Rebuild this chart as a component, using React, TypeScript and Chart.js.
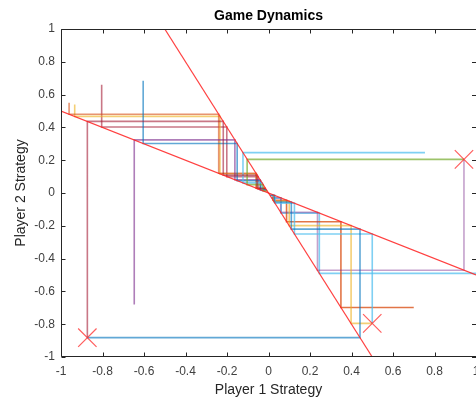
import React, { useEffect, useRef } from "react";
import { Chart, registerables } from "chart.js";

Chart.register(...registerables);

// ---- data ----
const TICK_VALUES = [-1, -0.8, -0.6, -0.4, -0.2, 0, 0.2, 0.4, 0.6, 0.8, 1];
const TICK_LABELS = ["-1", "-0.8", "-0.6", "-0.4", "-0.2", "0", "0.2", "0.4", "0.6", "0.8", "1"];

// best-response lines
const BR1_X = [-0.5, 0.5];
const BR1_Y = [1, -1];
const BR2_X = [-1, 1];
const BR2_Y = [0.5, -0.5];

// marked starting points
const START_X = [-0.873, 0.5, 0.942];
const START_Y = [-0.882, -0.795, 0.205];

// trajectories (vertices)
const P1_X = [-0.873, 0.441, 0.441, 0.11, 0.11, 0.028, 0.028, 0.007];
const P1_Y = [-0.882, -0.882, -0.22, -0.22, -0.055, -0.055, -0.014, -0.014];
const P2_X = [-0.873, -0.873, -0.218, -0.218, -0.055, -0.055, -0.014];
const P2_Y = [-0.882, 0.437, 0.437, 0.109, 0.109, 0.027, 0.027];
const P3_X = [0.5, 0.5, 0.125, 0.125, 0.031, 0.031, 0.008];
const P3_Y = [-0.795, -0.25, -0.25, -0.062, -0.062, -0.016, -0.016];
const P4_X = [0.5, 0.398, 0.398, 0.1, 0.1, 0.025, 0.025];
const P4_Y = [-0.795, -0.795, -0.199, -0.199, -0.05, -0.05, -0.012];
const P5_X = [0.942, -0.103, -0.103, -0.026, -0.026, -0.006];
const P5_Y = [0.205, 0.205, 0.051, 0.051, 0.013, 0.013];
const P6_X = [0.942, 0.942, 0.236, 0.236, 0.059, 0.059, 0.015];
const P6_Y = [0.205, -0.471, -0.471, -0.118, -0.118, -0.029, -0.029];
const P7_X = [0.754, -0.123, -0.123, -0.031, -0.031, -0.008];
const P7_Y = [0.246, 0.246, 0.062, 0.062, 0.015, 0.015];
const P8_X = [0.7, 0.349, 0.349, 0.087, 0.087, 0.022, 0.022];
const P8_Y = [-0.698, -0.698, -0.175, -0.175, -0.044, -0.044, -0.011];
const P9_X = [-0.604, -0.604, -0.151, -0.151, -0.038, -0.038, -0.009];
const P9_Y = [0.685, 0.302, 0.302, 0.075, 0.075, 0.019, 0.019];
const P10_X = [-0.647, -0.647, -0.162, -0.162, -0.04, -0.04, -0.01];
const P10_Y = [-0.68, 0.324, 0.324, 0.081, 0.081, 0.02, 0.02];
const P11_X = [-0.961, -0.961, -0.24, -0.24, -0.06, -0.06, -0.015];
const P11_Y = [0.55, 0.48, 0.48, 0.12, 0.12, 0.03, 0.03];
const P12_X = [-0.934, -0.934, -0.234, -0.234, -0.058, -0.058, -0.015];
const P12_Y = [0.54, 0.467, 0.467, 0.117, 0.117, 0.029, 0.029];
const P13_X = [-0.804, -0.804, -0.201, -0.201, -0.05, -0.05, -0.013];
const P13_Y = [0.66, 0.402, 0.402, 0.1, 0.1, 0.025, 0.025];
const P14_X = [1.05, 0.245, 0.245, 0.061, 0.061, 0.015];
const P14_Y = [-0.49, -0.49, -0.1225, -0.1225, -0.031, -0.031];

const C_BLUE = "rgba(0,114,189,0.62)";
const C_ORANGE = "rgba(217,83,25,0.62)";
const C_YELLOW = "rgba(237,177,32,0.62)";
const C_PURPLE = "rgba(126,47,142,0.62)";
const C_GREEN = "rgba(119,172,48,0.72)";
const C_LBLUE = "rgba(77,190,238,0.72)";
const C_DRED = "rgba(162,20,47,0.58)";

const PATHS: [number[], number[], string][] = [
  [P1_X, P1_Y, C_BLUE],
  [P2_X, P2_Y, C_DRED],
  [P3_X, P3_Y, C_LBLUE],
  [P4_X, P4_Y, C_YELLOW],
  [P5_X, P5_Y, C_GREEN],
  [P6_X, P6_Y, "rgba(126,47,142,0.45)"],
  [P7_X, P7_Y, C_LBLUE],
  [P8_X, P8_Y, "rgba(217,83,25,0.8)"],
  [P9_X, P9_Y, C_BLUE],
  [P10_X, P10_Y, C_PURPLE],
  [P11_X, P11_Y, C_ORANGE],
  [P12_X, P12_Y, C_YELLOW],
  [P13_X, P13_Y, C_DRED],
  [P14_X, P14_Y, C_LBLUE],
];

const toPts = (xs: number[], ys: number[]) => xs.map((x, i) => ({ x, y: ys[i] }));

const FONT = '"Liberation Sans", Arial, Helvetica, sans-serif';

const framePlugin = {
  id: "matlabFrame",
  afterDraw(chart: any) {
    const { ctx, chartArea: a, scales } = chart;
    ctx.save();
    ctx.strokeStyle = "#262626";
    ctx.lineWidth = 1;
    const l = Math.round(a.left) + 0.5;
    const r = Math.round(a.right) - 0.5;
    const t = Math.round(a.top) + 0.5;
    const b = Math.round(a.bottom) - 0.5;
    ctx.beginPath();
    ctx.moveTo(l, t);
    ctx.lineTo(r + 1, t);
    ctx.moveTo(l, t);
    ctx.lineTo(l, b);
    ctx.lineTo(r + 1, b);
    ctx.stroke();
    const tl = 4;
    ctx.beginPath();
    TICK_VALUES.forEach((v) => {
      const px = Math.round(scales.x.getPixelForValue(v)) + 0.5;
      ctx.moveTo(px, b);
      ctx.lineTo(px, b - tl);
      ctx.moveTo(px, t);
      ctx.lineTo(px, t + tl);
      const py = Math.round(scales.y.getPixelForValue(v)) + 0.5;
      ctx.moveTo(l, py);
      ctx.lineTo(l + tl, py);
      ctx.moveTo(a.right, py);
      ctx.lineTo(a.right - tl, py);
    });
    ctx.stroke();
    // tick labels
    ctx.fillStyle = "#404040";
    ctx.font = `12px ${FONT}`;
    ctx.textBaseline = "middle";
    ctx.textAlign = "center";
    TICK_VALUES.forEach((v, i) => {
      ctx.fillText(TICK_LABELS[i], scales.x.getPixelForValue(v), a.bottom + 15);
    });
    ctx.textAlign = "right";
    TICK_VALUES.forEach((v, i) => {
      ctx.fillText(TICK_LABELS[i], a.left - 6, scales.y.getPixelForValue(v));
    });
    // title
    ctx.fillStyle = "#000";
    ctx.font = `bold 14px ${FONT}`;
    ctx.textAlign = "center";
    ctx.fillText("Game Dynamics", (a.left + a.right) / 2, 16);
    ctx.restore();
  },
};

export default function App() {
  const ref = useRef<HTMLCanvasElement | null>(null);
  useEffect(() => {
    if (!ref.current) return;
    const datasets: any[] = [
      {
        data: toPts(START_X, START_Y),
        showLine: false,
        pointStyle: "crossRot",
        pointRadius: 13,
        pointBorderColor: "rgba(255,40,40,0.75)",
        pointBorderWidth: 1.2,
        clip: false,
      },
      {
        data: toPts(BR1_X, BR1_Y),
        showLine: true,
        borderColor: "rgba(255,30,30,0.85)",
        borderWidth: 1.2,
        pointRadius: 0,
        clip: 0,
      },
      {
        data: toPts(BR2_X, BR2_Y),
        showLine: true,
        borderColor: "rgba(255,30,30,0.85)",
        borderWidth: 1.2,
        pointRadius: 0,
        clip: 0,
      },
      ...PATHS.map(([xs, ys, c]) => ({
        data: toPts(xs, ys),
        showLine: true,
        borderColor: c,
        borderWidth: 1.6,
        pointRadius: 0,
        clip: 0,
      })),
    ];
    const chart = new Chart(ref.current, {
      type: "scatter",
      data: { datasets },
      options: {
        animation: false,
        responsive: false,
        events: [],
        layout: { autoPadding: false, padding: { top: 29, right: 0, left: 0, bottom: 0 } },
        plugins: { legend: { display: false }, tooltip: { enabled: false }, title: { display: false } },
        scales: {
          x: {
            type: "linear",
            min: -1,
            max: 1,
            afterFit: (s: any) => {
              s.height = 43;
            },
            grid: { display: false, drawTicks: false },
            border: { display: false },
            ticks: { display: false },
            title: {
              display: true,
              text: "Player 1 Strategy",
              color: "#262626",
              font: { size: 14, family: FONT },
              padding: { top: 0, bottom: 1 },
            },
          },
          y: {
            type: "linear",
            min: -1,
            max: 1,
            afterFit: (s: any) => {
              s.width = 61;
            },
            grid: { display: false, drawTicks: false },
            border: { display: false },
            ticks: { display: false },
            title: {
              display: true,
              text: "Player 2 Strategy",
              color: "#262626",
              font: { size: 14, family: FONT },
              padding: { top: 12.6, bottom: 0 },
            },
          },
        },
      } as any,
      plugins: [framePlugin],
    });
    return () => chart.destroy();
  }, []);
  return (
    <div style={{ position: "fixed", left: 0, top: 0, width: 476, height: 400, background: "#fff" }}>
      <canvas ref={ref} width={476} height={400} style={{ width: 476, height: 400, display: "block" }} />
    </div>
  );
}
